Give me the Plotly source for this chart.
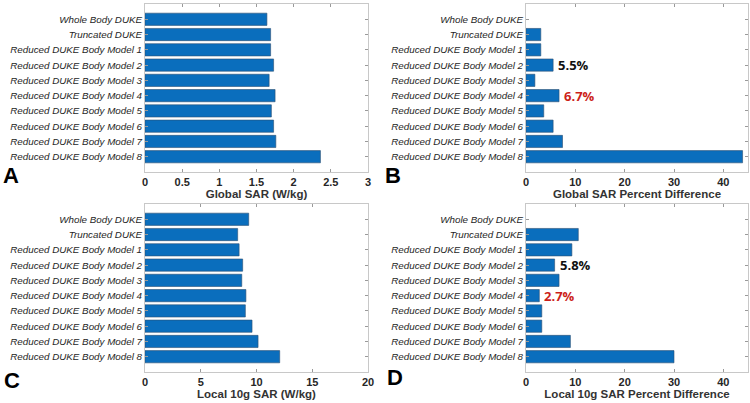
import plotly.graph_objects as go

categories = ["Whole Body DUKE", "Truncated DUKE",
              "Reduced DUKE Body Model 1", "Reduced DUKE Body Model 2",
              "Reduced DUKE Body Model 3", "Reduced DUKE Body Model 4",
              "Reduced DUKE Body Model 5", "Reduced DUKE Body Model 6",
              "Reduced DUKE Body Model 7", "Reduced DUKE Body Model 8"]

global_sar = [1.64, 1.69, 1.69, 1.73, 1.67, 1.75, 1.70, 1.73, 1.76, 2.36]
global_pct = [0, 3.0, 3.0, 5.5, 1.8, 6.7, 3.6, 5.5, 7.4, 43.9]
local_sar = [9.30, 8.31, 8.44, 8.76, 8.68, 9.05, 9.00, 9.60, 10.14, 12.08]
local_pct = [0, 10.6, 9.3, 5.8, 6.7, 2.7, 3.2, 3.2, 9.0, 30.0]

panel_letters = ["A", "B", "C", "D"]
x_titles = ["Global SAR (W/kg)", "Global SAR Percent Difference",
            "Local 10g SAR (W/kg)", "Local 10g SAR Percent Difference"]
x_ranges = [[0, 3], [0, 45], [0, 20], [0, 45]]
x_dticks = [0.5, 10, 5, 10]

# highlighted labels: (panel index, category index, text, color)
highlights = [(1, 3, "5.5%", "#111111"), (1, 5, "6.7%", "#cc1f1a"),
              (3, 3, "5.8%", "#111111"), (3, 5, "2.7%", "#cc1f1a")]

W, H = 750, 403
# plot-area pixel boxes (left, right, top, bottom)
boxes = [(145, 368, 4, 172), (526, 748, 4, 172),
         (145, 368, 204, 372), (526, 748, 204, 372)]

BAR = "#0a6ebd"
EDGE = "#2b4f72"
AXC = "#c8c8c8"
TXT = "#262626"

series = [global_sar, global_pct, local_sar, local_pct]

fig = go.Figure()
layout = {}
for i, vals in enumerate(series):
    n = i + 1
    xa = "x" if n == 1 else f"x{n}"
    ya = "y" if n == 1 else f"y{n}"
    edge_w = [0.6 if v > 0 else 0 for v in vals]
    fig.add_trace(go.Bar(x=vals, y=categories, orientation="h",
                         marker=dict(color=BAR, line=dict(color=EDGE, width=edge_w)),
                         width=0.8, xaxis=xa, yaxis=ya, showlegend=False))
    l, r, t, b = boxes[i]
    xkey = "xaxis" if n == 1 else f"xaxis{n}"
    ykey = "yaxis" if n == 1 else f"yaxis{n}"
    layout[xkey] = dict(domain=[l / W, r / W], anchor=ya, range=x_ranges[i],
                        dtick=x_dticks[i], tick0=0, showgrid=False, zeroline=False,
                        showline=True, linecolor=AXC, linewidth=1, mirror="ticks",
                        ticks="inside", ticklen=3, tickcolor="#9a9a9a",
                        automargin=False,
                        tickfont=dict(family="Liberation Sans", size=11, color=TXT,
                                      weight="bold"),
                        title=dict(text=f"<b>{x_titles[i]}</b>", standoff=2,
                                   font=dict(family="Liberation Sans", size=11.5,
                                             color="#333333")),
                        fixedrange=True)
    layout[ykey] = dict(domain=[1 - b / H, 1 - t / H], anchor=xa, type="category",
                        categoryorder="array", categoryarray=categories,
                        range=[10, -1], showgrid=False, zeroline=False,
                        showline=True, linecolor=AXC, linewidth=1, mirror="ticks",
                        ticks="inside", ticklen=3, tickcolor="#9a9a9a",
                        automargin=False,
                        tickfont=dict(family="Liberation Sans", size=9.8, color=TXT,
                                      style="italic"),
                        fixedrange=True)

annotations = []
letter_pos = [(1, 175), (383, 175), (2, 380), (385, 377)]
for i, letter in enumerate(panel_letters):
    x, y = letter_pos[i]
    annotations.append(dict(text=f"<b>{letter}</b>", x=x / W, y=1 - y / H,
                            xref="paper", yref="paper", xanchor="left",
                            yanchor="middle", showarrow=False,
                            font=dict(family="Liberation Sans", size=22, color="black")))

for p, c, txt, col in highlights:
    n = p + 1
    vals = series[p]
    annotations.append(dict(text=f"<b>{txt}</b>", x=vals[c], y=categories[c],
                            xref=f"x{n}", yref=f"y{n}", xanchor="left",
                            yanchor="middle", xshift=3, showarrow=False,
                            font=dict(family="Open Sans", size=13, color=col)))

fig.update_layout(**layout)
fig.update_layout(template="none", width=W, height=H,
                  margin=dict(l=0, r=0, t=0, b=0, pad=0),
                  paper_bgcolor="white", plot_bgcolor="white",
                  annotations=annotations, bargap=0.2)

fig.write_html("out.html", config={"displayModeBar": False},
               post_script="document.body.style.margin='0';document.body.style.overflow='hidden';")
